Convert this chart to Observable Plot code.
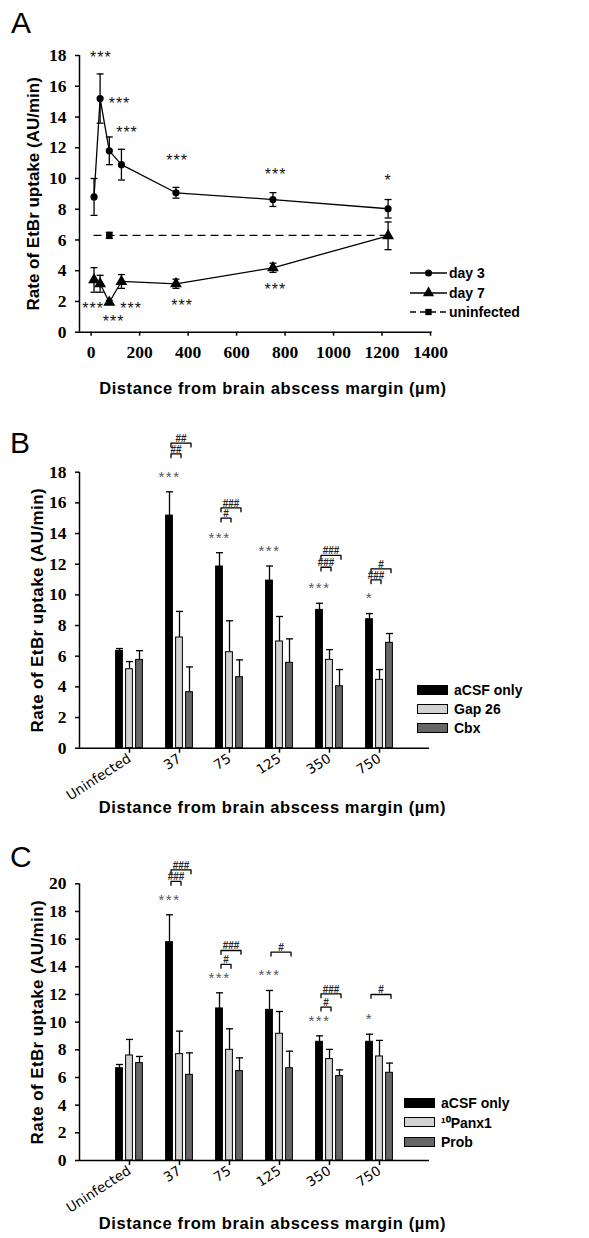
<!DOCTYPE html>
<html><head><meta charset="utf-8">
<script src="https://cdn.jsdelivr.net/npm/d3@7"></script>
<script src="https://cdn.jsdelivr.net/npm/@observablehq/plot@0.6"></script>
<style>
body{margin:0;background:#fff;}
#root{position:relative;width:589px;height:1238px;overflow:hidden;background:#fff;}
.panel{position:absolute;left:0;}
.panel svg{overflow:visible;}
.plabel{position:absolute;font-family:"Liberation Sans",Arial,sans-serif;font-size:30px;line-height:1;color:#000;}
.leg{position:absolute;display:flex;align-items:center;font-family:"Liberation Sans",Arial,sans-serif;font-weight:bold;font-size:14px;color:#000;white-space:nowrap;height:18px;}
.sw{width:29px;height:8px;border:1.5px solid #000;}
</style></head><body><div id="root"></div>
<script>
// ---------- Panel A data ----------
const distA = [12, 37, 75, 125, 350, 750, 1225];
const day3Mean = [8.8, 15.2, 11.8, 10.9, 9.07, 8.63, 8.03];
const day3Err = [1.2, 1.6, 0.9, 1.0, 0.35, 0.45, 0.6];
const day7Mean = [3.4, 3.15, 1.95, 3.3, 3.15, 4.19, 6.27];
const day7Err = [0.8, 0.55, 0.12, 0.45, 0.3, 0.3, 0.9];
const uninfDist = 75, uninfMean = 6.3, uninfErr = 0.2;
const seriesA = ["day 3", "day 7", "uninfected"];
const xTicksA = [0, 200, 400, 600, 800, 1000, 1200, 1400];
const yTicksA = [0, 2, 4, 6, 8, 10, 12, 14, 16, 18];
const starAx = [40, 117, 148, 355, 761, 1225, 8, 93, 165, 375, 760];
const starAy = [18.1, 15.1, 13.2, 11.4, 10.5, 10.1, 1.8, 0.93, 1.8, 1.95, 3.0];
const starAlabel = ["***", "***", "***", "***", "***", "*", "***", "***", "***", "***", "***"];

// ---------- Panel B data ----------
const catsB = ["Uninfected", "37", "75", "125", "350", "750"];
const seriesB = ["aCSF only", "Gap 26", "Cbx"];
const aCSF_B = [6.35, 15.17, 11.85, 10.93, 9.02, 8.41];
const aCSF_B_err = [0.15, 1.55, 0.9, 0.95, 0.43, 0.37];
const gap26_B = [5.15, 7.22, 6.26, 6.96, 5.76, 4.46];
const gap26_B_err = [0.5, 1.7, 2.05, 1.63, 0.67, 0.67];
const cbx_B = [5.76, 3.65, 4.63, 5.57, 4.04, 6.87];
const cbx_B_err = [0.6, 1.65, 1.13, 1.56, 1.09, 0.61];
const starsB = ["", "***", "***", "***", "***", "*"];
const brB_cat = ["37", "37", "75", "75", "350", "350", "750", "750"];
const brB_to = [2, 1, 2, 1, 2, 1, 2, 1];
const brB_y = [19.9, 19.2, 15.67, 15.0, 12.57, 11.8, 11.7, 10.98];
const brB_label = ["##", "##", "###", "#", "###", "###", "#", "###"];
const yTicksB = [0, 2, 4, 6, 8, 10, 12, 14, 16, 18];

// ---------- Panel C data ----------
const catsC = ["Uninfected", "37", "75", "125", "350", "750"];
const seriesC = ["aCSF only", "¹⁰Panx1", "Prob"];
const aCSF_C = [6.67, 15.78, 10.99, 10.89, 8.58, 8.58];
const aCSF_C_err = [0.27, 1.98, 1.13, 1.4, 0.43, 0.55];
const panx_C = [7.59, 7.69, 8.0, 9.16, 7.33, 7.52];
const panx_C_err = [1.16, 1.66, 1.52, 1.61, 0.7, 1.16];
const prob_C = [7.04, 6.19, 6.46, 6.67, 6.1, 6.34];
const prob_C_err = [0.48, 1.59, 0.96, 1.23, 0.45, 0.7];
const starsC = ["", "***", "***", "***", "***", "*"];
const brC_cat = ["37", "37", "75", "75", "125", "350", "350", "750"];
const brC_to = [2, 1, 2, 1, 2, 2, 1, 2];
const brC_y = [21.0, 20.17, 15.18, 14.17, 15.06, 12.05, 11.08, 12.0];
const brC_label = ["###", "###", "###", "#", "#", "###", "#", "#"];
const yTicksC = [0, 2, 4, 6, 8, 10, 12, 14, 16, 18, 20];

const xTitle = "Distance from brain abscess margin (µm)";
const yTitle = "Rate of EtBr uptake (AU/min)";
const barFills = ["#000000", "#d2d2d2", "#666666"];

// ---------- helpers ----------
const root = document.getElementById("root");
const capSym = {draw(ctx, size) { const w = Math.sqrt(size / Math.PI); ctx.moveTo(-w, 0); ctx.lineTo(w, 0); }};
const titleFont = {fontFamily: "Liberation Sans", fontWeight: "bold", fontSize: 16.5};

function styleTicks(svg, which, fam, weight, size) {
  svg.querySelectorAll(`g[aria-label="${which}-axis tick label"] text`).forEach(t => {
    t.setAttribute("font-family", fam);
    t.setAttribute("font-weight", weight);
    t.setAttribute("font-size", size);
    t.style.fontFamily = fam; t.style.fontWeight = weight; t.style.fontSize = size + "px";
  });
}
function place(el, top) {
  const d = document.createElement("div");
  d.className = "panel"; d.style.top = top + "px";
  d.appendChild(el); root.appendChild(d);
}
function label(txt, left, top) {
  const d = document.createElement("div");
  d.className = "plabel"; d.textContent = txt;
  d.style.left = left + "px"; d.style.top = top + "px";
  root.appendChild(d);
}

// ---------- Panel A ----------
const xDomA = [-48, 1407];
const yDomA = [0, 18];
const d3rows = distA.map((x, k) => ({x, m: day3Mean[k], e: day3Err[k]}));
const d7rows = distA.map((x, k) => ({x, m: day7Mean[k], e: day7Err[k]}));
const unRow = [{x: uninfDist, m: uninfMean, e: uninfErr}];
const starsArows = starAx.map((x, k) => ({x, y: starAy[k], t: starAlabel[k]}));

function errMarks(rows) {
  return [
    Plot.ruleX(rows, {x: "x", y1: d => d.m - d.e, y2: d => d.m + d.e, stroke: "black", strokeWidth: 1.3}),
    Plot.dot(rows, {x: "x", y: d => d.m + d.e, symbol: capSym, r: 3.5, stroke: "black", strokeWidth: 1.3, fill: "none"}),
    Plot.dot(rows, {x: "x", y: d => d.m - d.e, symbol: capSym, r: 3.5, stroke: "black", strokeWidth: 1.3, fill: "none"})
  ];
}

const plotA = Plot.plot({
  width: 589, height: 410,
  marginLeft: 79, marginRight: 157.3, marginTop: 55, marginBottom: 78.3,
  x: {domain: xDomA}, y: {domain: yDomA},
  style: {fontFamily: "Liberation Sans", color: "black", background: "transparent", overflow: "visible"},
  marks: [
    Plot.ruleX([xDomA[0]], {y1: yDomA[0], y2: yDomA[1], stroke: "black", strokeWidth: 1.5}),
    Plot.ruleY([yDomA[0]], {stroke: "black", strokeWidth: 1.5}),
    Plot.axisY({ticks: yTicksA, tickFormat: d => String(d), tickSize: 4, tickPadding: 9, label: null, strokeWidth: 1.5}),
    Plot.axisX({ticks: xTicksA, tickFormat: d => String(d), tickSize: 4, tickPadding: 9, label: null, strokeWidth: 1.5}),
    Plot.ruleY([uninfMean], {x1: distA[0], x2: distA[distA.length - 1], stroke: "black", strokeWidth: 1.4, strokeDasharray: "8,5"}),
    Plot.line(d3rows, {x: "x", y: "m", stroke: "black", strokeWidth: 1.3}),
    Plot.line(d7rows, {x: "x", y: "m", stroke: "black", strokeWidth: 1.3}),
    ...errMarks(d3rows), ...errMarks(d7rows), ...errMarks(unRow),
    Plot.dot(d3rows, {x: "x", y: "m", r: 3.6, fill: "black", symbol: "circle"}),
    Plot.dot(d7rows, {x: "x", y: "m", r: 4.4, fill: "black", symbol: "triangle"}),
    Plot.dot(unRow, {x: "x", y: "m", r: 3.6, fill: "black", symbol: "square"}),
    Plot.text(starsArows, {x: "x", y: "y", text: "t", fontSize: 16, dy: 4, fill: "#111", fontFamily: "Liberation Sans"}),
    Plot.text([yTitle], {frameAnchor: "left", textAnchor: "middle", rotate: -90, dx: -46, ...titleFont, fontSize: 17}),
    Plot.text([xTitle], {frameAnchor: "bottom", textAnchor: "middle", dx: 17, dy: 62, ...titleFont})
  ]
});
styleTicks(plotA, "x", "Liberation Serif", "bold", 17.5);
styleTicks(plotA, "y", "Liberation Serif", "bold", 17.5);
plotA.querySelectorAll("text").forEach(t => {
  if (t.textContent === xTitle) t.setAttribute("letter-spacing", "0.6");
  if (/^\*+$/.test(t.textContent)) t.setAttribute("letter-spacing", "1");
});
place(plotA, 0);
label("A", 11, 8);

// legend A
(function() {
  const rowsY = [273, 292.5, 312];
  const syms = [d3.symbolCircle, d3.symbolTriangle, d3.symbolSquare];
  const sizes = [40, 55, 40];
  seriesA.forEach((name, k) => {
    const div = document.createElement("div");
    div.className = "leg";
    div.style.left = "410px"; div.style.top = (rowsY[k] - 9) + "px";
    const svg = d3.create("svg").attr("width", 38).attr("height", 18);
    svg.append("line").attr("x1", 0).attr("x2", 37).attr("y1", 9).attr("y2", 9)
      .attr("stroke", "black").attr("stroke-width", 1.4).attr("stroke-dasharray", k === 2 ? "6,4" : null);
    svg.append("path").attr("d", d3.symbol(syms[k], sizes[k])()).attr("transform", "translate(18.5,9)").attr("fill", "black");
    div.appendChild(svg.node());
    const s = document.createElement("span"); s.textContent = name; s.style.marginLeft = "1px";
    div.appendChild(s);
    root.appendChild(div);
  });
})();

// ---------- Bar panels ----------
function barPanel(o) {
  const means = o.means, errs = o.errs;
  const rows = o.cats.flatMap((c, i) => o.series.map((s, j) => ({i: i + 1, j, s, v: means[j][i], e: errs[j][i]})));
  const xpos = d => d.i + (d.j - 1) * 0.2;
  const hw = 0.068;
  const starRows = o.stars.map((t, i) => ({i: i + 1, t, y: means[0][i] + errs[0][i]})).filter(d => d.t);
  const brRows = o.brCat.map((c, k) => ({i: o.cats.indexOf(c) + 1, to: o.brTo[k], y: o.brY[k], t: o.brLabel[k], id: k}));
  const brPts = brRows.flatMap(b => {
    const x1 = b.i - 0.17, x2 = b.i + (b.to - 1) * 0.2 + 0.03;
    return [{id: b.id, x: x1, y: b.y - o.tickLen}, {id: b.id, x: x1, y: b.y}, {id: b.id, x: x2, y: b.y}, {id: b.id, x: x2, y: b.y - o.tickLen}];
  });
  const xDom = [0, o.cats.length + 1];
  const p = Plot.plot({
    width: 589, height: o.height,
    marginLeft: 79, marginRight: 160, marginTop: o.marginTop, marginBottom: o.marginBottom,
    x: {domain: xDom}, y: {domain: [0, o.yMax]},
    color: {domain: o.series, range: barFills},
    style: {fontFamily: "Liberation Sans", color: "black", background: "transparent", overflow: "visible"},
    marks: [
      Plot.ruleX(rows, {x: xpos, y1: "v", y2: d => d.v + d.e, stroke: "black", strokeWidth: 1.3}),
      Plot.dot(rows, {x: xpos, y: d => d.v + d.e, symbol: capSym, r: 3.5, stroke: "black", strokeWidth: 1.3, fill: "none"}),
      Plot.rect(rows, {x1: d => xpos(d) - hw, x2: d => xpos(d) + hw, y1: 0, y2: "v", fill: "s", stroke: "black", strokeWidth: 1}),
      Plot.ruleX([xDom[0]], {y1: 0, y2: o.yMax, stroke: "black", strokeWidth: 1.5}),
      Plot.ruleY([0], {stroke: "black", strokeWidth: 1.5}),
      Plot.axisY({ticks: o.yTicks, tickFormat: d => String(d), tickSize: 4, tickPadding: 9, label: null, strokeWidth: 1.5}),
      Plot.axisX({ticks: d3.range(1, o.cats.length + 1), tickFormat: i => o.cats[i - 1], tickRotate: -33, tickSize: 5, tickPadding: 4,
        label: null, strokeWidth: 1.5}),
      Plot.text(starRows, {x: d => d.i - 0.2, y: "y", text: "t", dy: -15, fontSize: 15, fill: "#555", fontFamily: "Liberation Sans"}),
      Plot.line(brPts, {x: "x", y: "y", z: "id", stroke: "black", strokeWidth: 1.3}),
      Plot.text(brRows, {x: b => b.i - 0.17 + ((b.to - 1) * 0.2 + 0.2) / 2, y: "y", text: "t", lineAnchor: "bottom", dy: -1,
        fontSize: 10, fontWeight: "bold", fontFamily: "Liberation Sans Narrow, Liberation Sans", fill: "#222"}),
      Plot.text([yTitle], {frameAnchor: "left", textAnchor: "middle", rotate: -90, dx: -42, ...titleFont, fontSize: 17}),
      Plot.text([xTitle], {frameAnchor: "bottom", textAnchor: "middle", dx: 18, dy: o.titleDy, ...titleFont})
    ]
  });
  styleTicks(p, "y", "Liberation Serif", "bold", 17.5);
  styleTicks(p, "x", "DejaVu Sans", "normal", 13.5);
  p.querySelectorAll("text").forEach(t => {
    if (t.textContent === xTitle) t.setAttribute("letter-spacing", "0.6");
    if (t.textContent === yTitle) t.setAttribute("letter-spacing", "0.4");
    if (/^\*+$/.test(t.textContent)) t.setAttribute("letter-spacing", "1.5");
  });
  return p;
}

const plotB = barPanel({
  cats: catsB, series: seriesB,
  means: [aCSF_B, gap26_B, cbx_B], errs: [aCSF_B_err, gap26_B_err, cbx_B_err],
  stars: starsB, brCat: brB_cat, brTo: brB_to, brY: brB_y, brLabel: brB_label,
  yMax: 18, yTicks: yTicksB, height: 420, marginTop: 61.7, marginBottom: 82.3, tickLen: 0.25, titleDy: 65
});
place(plotB, 410);
label("B", 10, 428);

const plotC = barPanel({
  cats: catsC, series: seriesC,
  means: [aCSF_C, panx_C, prob_C], errs: [aCSF_C_err, panx_C_err, prob_C_err],
  stars: starsC, brCat: brC_cat, brTo: brC_to, brY: brC_y, brLabel: brC_label,
  yMax: 20, yTicks: yTicksC, height: 408, marginTop: 53.3, marginBottom: 78, tickLen: 0.28, titleDy: 68
});
place(plotC, 830);
label("C", 10, 842);

function barLegend(series, left, rowsY) {
  series.forEach((name, k) => {
    const div = document.createElement("div");
    div.className = "leg";
    div.style.left = left + "px"; div.style.top = (rowsY[k] - 9) + "px";
    const sw = document.createElement("div"); sw.className = "sw"; sw.style.background = barFills[k];
    div.appendChild(sw);
    const s = document.createElement("span"); s.textContent = name; s.style.marginLeft = "6px";
    div.appendChild(s);
    root.appendChild(div);
  });
}
barLegend(seriesB, 417, [690, 709.3, 728.3]);
barLegend(seriesC, 404, [1102.7, 1122.3, 1141.7]);
</script></body></html>
